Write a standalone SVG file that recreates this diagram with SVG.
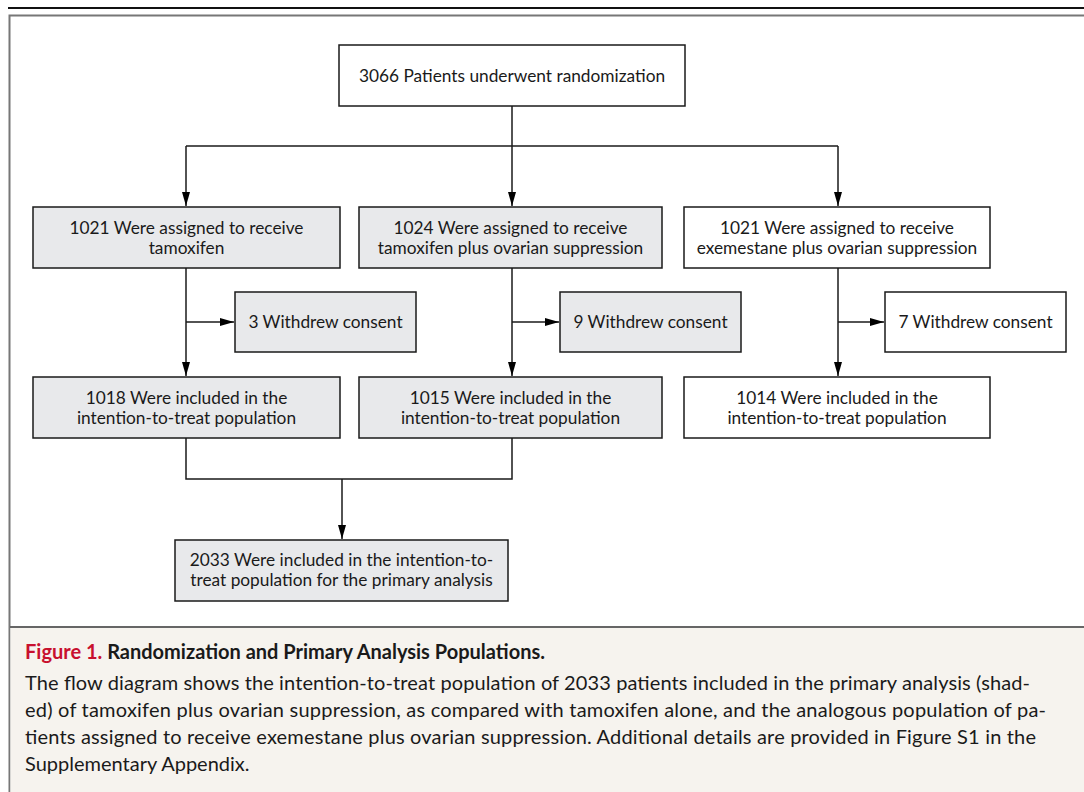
<svg xmlns="http://www.w3.org/2000/svg" width="1084" height="792" viewBox="0 0 1084 792">
<defs>
<marker id="ah" viewBox="0 0 14 8" refX="14" refY="4" markerWidth="14" markerHeight="8" markerUnits="userSpaceOnUse" orient="auto">
<path d="M0,0 L14,4 L0,8 Z" fill="#000"/>
</marker>
<style>
.box{stroke:#1a1a1a;stroke-width:1.5}
.sh{fill:#e8e9eb}
.wh{fill:#ffffff}
.t{font-family:Lato,"Open Sans","Noto Sans",sans-serif;font-size:17.3px;fill:#1a1a1a;text-anchor:middle}
.c{fill:none;stroke:#1a1a1a;stroke-width:1.5}
.cap{font-family:Lato,"Open Sans","Noto Sans",sans-serif;font-size:20px;fill:#1a1a1a}
</style>
</defs>
<rect width="1084" height="792" fill="#ffffff"/>
<line x1="8" y1="8" x2="1084" y2="8" stroke="#111" stroke-width="2"/>
<rect x="9.5" y="15.5" width="1090" height="800" fill="#ffffff" stroke="#777" stroke-width="2"/>
<rect x="10.5" y="628" width="1080" height="170" fill="#f6f3ee"/>
<line x1="10" y1="627" x2="1084" y2="627" stroke="#666" stroke-width="2"/>

<g id="connectors">
<path class="c" d="M512,106 V146"/>
<path class="c" d="M186,146 H838"/>
<path class="c" d="M186,146 V206" marker-end="url(#ah)"/>
<path class="c" d="M512,146 V206" marker-end="url(#ah)"/>
<path class="c" d="M838,146 V206" marker-end="url(#ah)"/>
<path class="c" d="M186,268 V376" marker-end="url(#ah)"/>
<path class="c" d="M186,322 H234" marker-end="url(#ah)"/>
<path class="c" d="M512,268 V376" marker-end="url(#ah)"/>
<path class="c" d="M512,322 H559" marker-end="url(#ah)"/>
<path class="c" d="M838,268 V376" marker-end="url(#ah)"/>
<path class="c" d="M838,322 H884" marker-end="url(#ah)"/>
<path class="c" d="M186,438 V479 H512 V438"/>
<path class="c" d="M342,479 V539" marker-end="url(#ah)"/>
</g>

<g id="randomization">
<rect class="box wh" x="339" y="45" width="346" height="61"/>
<text class="t" x="512" y="82">3066 Patients underwent randomization</text>
</g>
<g id="assigned-tamoxifen">
<rect class="box sh" x="33" y="207" width="307" height="61"/>
<text class="t" x="186.5" y="234">1021 Were assigned to receive</text>
<text class="t" x="186.5" y="254">tamoxifen</text>
</g>
<g id="assigned-tamoxifen-os">
<rect class="box sh" x="359" y="207" width="303" height="61"/>
<text class="t" x="510.5" y="234">1024 Were assigned to receive</text>
<text class="t" x="510.5" y="254">tamoxifen plus ovarian suppression</text>
</g>
<g id="assigned-exemestane-os">
<rect class="box wh" x="684" y="207" width="306" height="61"/>
<text class="t" x="837" y="234">1021 Were assigned to receive</text>
<text class="t" x="837" y="254">exemestane plus ovarian suppression</text>
</g>
<g id="withdrew-a">
<rect class="box sh" x="235" y="292" width="181" height="60"/>
<text class="t" x="325.5" y="328">3 Withdrew consent</text>
</g>
<g id="withdrew-b">
<rect class="box sh" x="560" y="292" width="181" height="60"/>
<text class="t" x="650.5" y="328">9 Withdrew consent</text>
</g>
<g id="withdrew-c">
<rect class="box wh" x="885" y="292" width="181" height="60"/>
<text class="t" x="975.5" y="328">7 Withdrew consent</text>
</g>
<g id="itt-a">
<rect class="box sh" x="33" y="377" width="307" height="61"/>
<text class="t" x="186.5" y="404">1018 Were included in the</text>
<text class="t" x="186.5" y="424">intention-to-treat population</text>
</g>
<g id="itt-b">
<rect class="box sh" x="359" y="377" width="303" height="61"/>
<text class="t" x="510.5" y="404">1015 Were included in the</text>
<text class="t" x="510.5" y="424">intention-to-treat population</text>
</g>
<g id="itt-c">
<rect class="box wh" x="684" y="377" width="306" height="61"/>
<text class="t" x="837" y="404">1014 Were included in the</text>
<text class="t" x="837" y="424">intention-to-treat population</text>
</g>
<g id="primary-analysis">
<rect class="box sh" x="175" y="540" width="333" height="61"/>
<text class="t" x="341.5" y="566">2033 Were included in the intention-to-</text>
<text class="t" x="341.5" y="586">treat population for the primary analysis</text>
</g>

<g id="caption">
<text class="cap" x="25" y="659" font-weight="bold"><tspan fill="#c8102e">Figure 1.</tspan> Randomization and Primary Analysis Populations.</text>
<text class="cap" x="25" y="690" textLength="1005" lengthAdjust="spacing">The flow diagram shows the intention-to-treat population of 2033 patients included in the primary analysis (shad-</text>
<text class="cap" x="25" y="717" textLength="1021" lengthAdjust="spacing">ed) of tamoxifen plus ovarian suppression, as compared with tamoxifen alone, and the analogous population of pa-</text>
<text class="cap" x="25" y="744" textLength="1011" lengthAdjust="spacing">tients assigned to receive exemestane plus ovarian suppression. Additional details are provided in Figure S1 in the</text>
<text class="cap" x="25" y="771">Supplementary Appendix.</text>
</g>
</svg>
